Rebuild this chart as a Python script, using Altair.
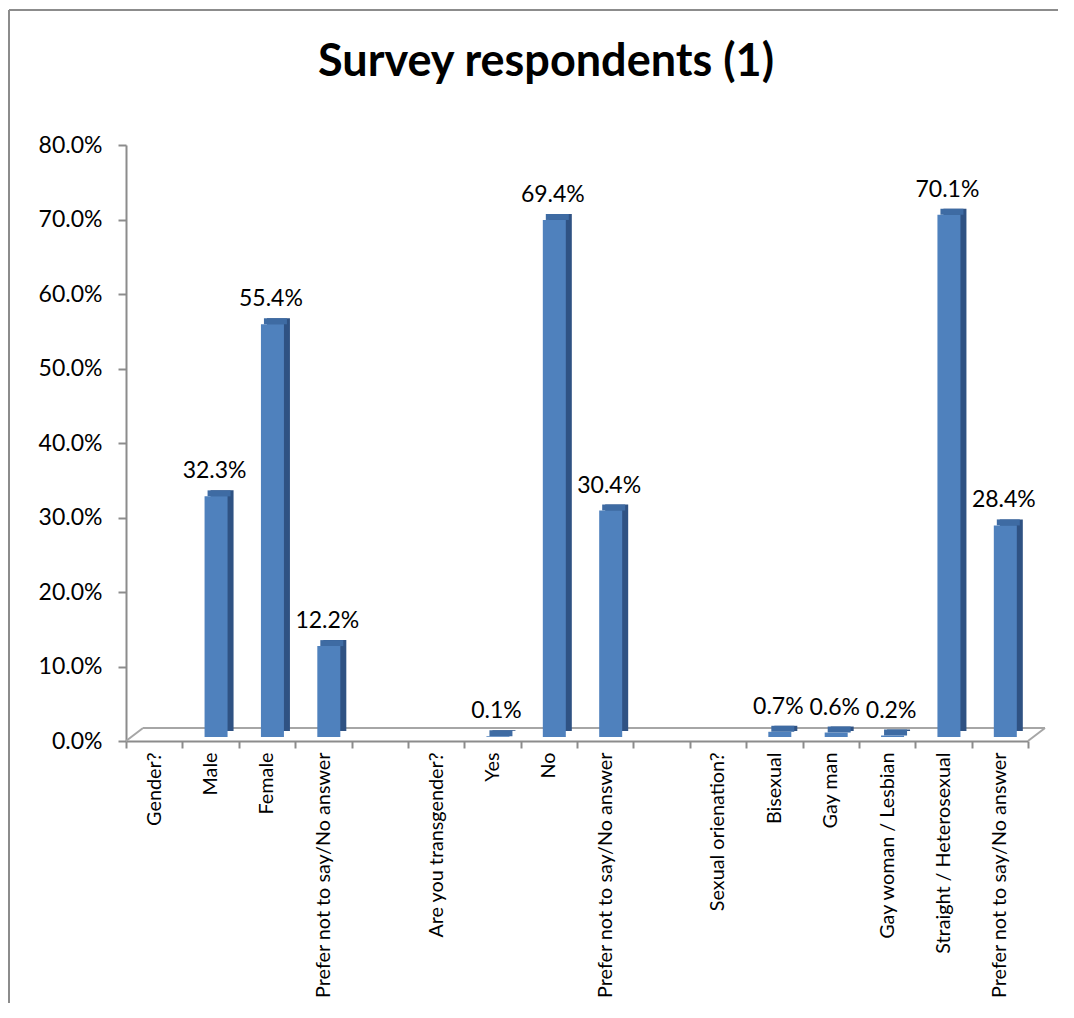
import json
import altair as alt
import pandas as pd

# ---- data ----
labels = [
    "Gender?", "Male", "Female", "Prefer not to say/No answer", "",
    "Are you transgender?", "Yes", "No", "Prefer not to say/No answer", "",
    "Sexual orienation?", "Bisexual", "Gay man", "Gay woman / Lesbian",
    "Straight / Heterosexual", "Prefer not to say/No answer",
]
values = [
    None, 0.323, 0.554, 0.122, None,
    None, 0.001, 0.694, 0.304, None,
    None, 0.007, 0.006, 0.002, 0.701, 0.284,
]
y_ticks = [0.0, 0.1, 0.2, 0.3, 0.4, 0.5, 0.6, 0.7, 0.8]

rows = [{"idx": i, "v": v, "lab": f"{v*100:.1f}%"} for i, v in enumerate(values) if v is not None]
df = pd.DataFrame(rows)

FONT = "Lato"
FRONT = "#4F81BD"
SIDE = "#2F5283"
TOP = "#3E6BA3"
GRAY = "#8C8C8C"

W, H = 902, 596
BW = 23      # bar front width
D = 6        # 3D depth

label_expr = json.dumps(labels) + "[datum.value]"

xenc = alt.X(
    "idx:O",
    scale=alt.Scale(domain=list(range(len(labels))), paddingInner=0, paddingOuter=0),
    axis=alt.Axis(
        title=None, labelExpr=label_expr, labelAngle=-90, labelFont=FONT,
        labelFontSize=19.8, labelColor="black", labelPadding=4, labelLimit=0,
        tickBand="extent", tickSize=7, tickColor=GRAY, tickWidth=2,
        domainColor=GRAY, domainWidth=2, labelOverlap=False,
    ),
)
yenc = alt.Y(
    "v:Q",
    scale=alt.Scale(domain=[0, 0.8]),
    axis=alt.Axis(
        title=None, format=".1%", values=y_ticks, grid=False,
        labelFont=FONT, labelFontSize=23, labelColor="black", labelPadding=16,
        tickSize=8, tickColor=GRAY, tickWidth=2,
        domainColor=GRAY, domainWidth=2,
    ),
)

base = alt.Chart(df)

back = base.mark_bar(width=BW, color=SIDE, xOffset=5.5 + D, yOffset=-4 - D, y2Offset=-4 - D).encode(
    x=xenc, y=yenc, y2=alt.datum(0)
)
top = base.mark_bar(width=BW, color=TOP, xOffset=5.5 + D / 2, yOffset=-4 - D, y2Offset=-4).encode(
    x=xenc, y=yenc, y2=alt.Y2("v:Q")
)
front = base.mark_bar(width=BW, color=FRONT, yOffset=-4, y2Offset=-4, xOffset=5.5).encode(
    x=xenc, y=yenc, y2=alt.datum(0)
)
text = base.mark_text(font=FONT, fontSize=23, color="black", dy=-22, dx=4, baseline="alphabetic").encode(
    x=xenc, y=yenc, text="lab:N"
)

one = alt.Data(values=[{}])
floor_style = dict(color="#A6A6A6", strokeWidth=2)
floor_back = alt.Chart(one).mark_rule(**floor_style).encode(
    x=alt.value(17), x2=alt.value(W + 17), y=alt.value(H - 13), y2=alt.value(H - 13))
floor_left = alt.Chart(one).mark_rule(**floor_style).encode(
    x=alt.value(0), x2=alt.value(17), y=alt.value(H), y2=alt.value(H - 13))
floor_right = alt.Chart(one).mark_rule(**floor_style).encode(
    x=alt.value(W), x2=alt.value(W + 17), y=alt.value(H), y2=alt.value(H - 13))

frame_style = dict(color=GRAY, strokeWidth=2)
frame_left = alt.Chart(one).mark_rule(**frame_style).encode(
    x=alt.value(-117), x2=alt.value(-117), y=alt.value(-135), y2=alt.value(H + 265))
frame_top = alt.Chart(one).mark_rule(**frame_style).encode(
    x=alt.value(-117), x2=alt.value(W + 40), y=alt.value(-135), y2=alt.value(-135))

chart = alt.layer(
    floor_back, floor_left, floor_right, back, top, front, text, frame_left, frame_top
).properties(
    width=W, height=H,
    title=alt.TitleParams(
        "Survey respondents (1)", font=FONT, fontSize=45, fontWeight="bold",
        color="black", anchor="middle", frame="group", dx=-31, offset=-112,
        baseline="alphabetic",
    ),
    autosize=alt.AutoSizeParams(type="none"),
    padding={"left": 118, "top": 137, "right": 30, "bottom": 262},
).configure_view(strokeWidth=0)

chart.save("out.html", embed_options={"renderer": "svg", "actions": False})
